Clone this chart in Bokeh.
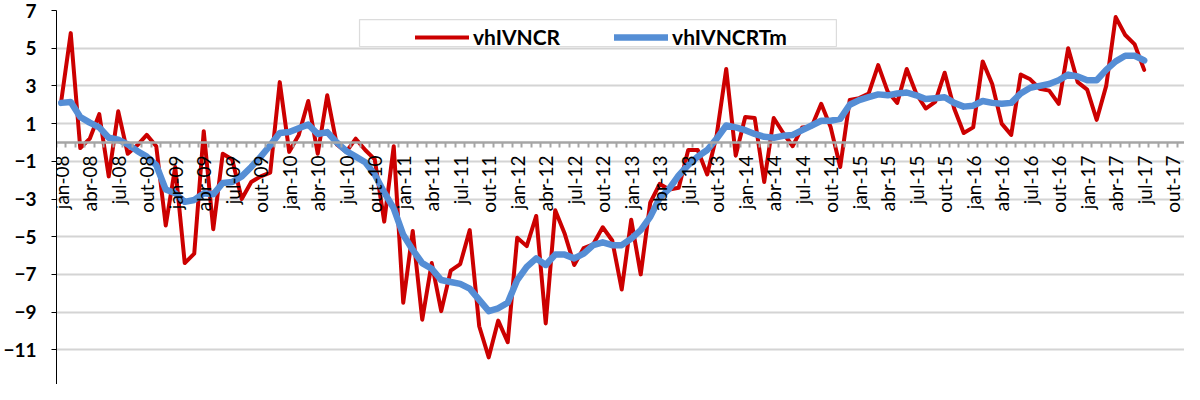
import math
from bokeh.plotting import figure
from bokeh.models import Range1d, FixedTicker, Legend, LegendItem, BoxAnnotation, ColumnDataSource
from bokeh.embed import file_html
from bokeh.resources import INLINE

# ---- data ----
month_abbr = ["jan", "fev", "mar", "abr", "mai", "jun", "jul", "ago", "set", "out", "nov", "dez"]
categories = [f"{m}-{y:02d}" for y in range(8, 18) for m in month_abbr]  # jan-08 .. dez-17

vhIVNCR = [
    2.2, 5.8, -0.3, 0.2, 1.5, -1.8, 1.65, -0.6, -0.15, 0.4, -0.2, -4.4,          # 2008
    -1.3, -6.4, -5.9, 0.6, -4.6, -0.6, -0.9, -3.0, -2.1, -1.8, -1.6, 3.2,        # 2009
    -0.5, 0.4, 2.2, -0.6, 2.5, -0.1, -0.5, 0.2, -0.4, -0.9, -4.2, -0.2,          # 2010
    -8.5, -4.7, -9.4, -6.4, -8.95, -6.8, -6.45, -4.65, -9.75, -11.4, -9.45, -10.6,  # 2011
    -5.05, -5.5, -3.9, -9.6, -3.6, -4.85, -6.5, -5.6, -5.4, -4.5, -5.2, -7.8,    # 2012
    -4.1, -7.0, -3.2, -2.2, -2.5, -2.4, -0.4, -0.4, -1.7, 0.4, 3.9, -0.7,        # 2013
    1.35, 1.3, -2.1, 1.3, 0.5, -0.2, 0.8, 0.85, 2.05, 0.8, -1.3, 2.25,           # 2014
    2.35, 2.6, 4.1, 2.7, 2.1, 3.9, 2.6, 1.8, 2.15, 3.7, 1.8, 0.5,                # 2015
    0.8, 4.3, 3.1, 1.0, 0.4, 3.6, 3.35, 2.85, 2.75, 2.05, 5.0, 3.2,              # 2016
    2.8, 1.2, 3.0, 6.65, 5.7, 5.2, 3.85,                                         # 2017
]
vhIVNCRTm = [
    2.1, 2.15, 1.35, 1.05, 0.8, 0.25, 0.15, -0.1, -0.45, -0.75, -1.2, -2.5,
    -2.7, -3.15, -3.05, -2.7, -2.75, -2.15, -2.1, -1.8, -1.3, -0.75, -0.15, 0.5,
    0.55, 0.75, 0.95, 0.45, 0.55, 0.0, -0.45, -0.75, -1.05, -1.7, -2.65, -3.5,
    -4.9, -5.7, -6.4, -6.7, -7.3, -7.4, -7.5, -7.75, -8.35, -8.95, -8.8, -8.5,
    -7.3, -6.6, -6.15, -6.5, -5.95, -5.95, -6.15, -5.9, -5.45, -5.3, -5.45, -5.45,
    -5.1, -4.65, -3.95, -2.95, -2.45, -1.75, -1.2, -0.75, -0.4, 0.2, 0.9, 0.8,
    0.65, 0.45, 0.3, 0.25, 0.35, 0.4, 0.65, 0.9, 1.15, 1.15, 1.25, 2.0,
    2.25, 2.4, 2.55, 2.5, 2.6, 2.65, 2.5, 2.3, 2.35, 2.4, 2.1, 1.9,
    1.95, 2.2, 2.1, 2.05, 2.1, 2.6, 2.9, 3.0, 3.1, 3.3, 3.6, 3.5,
    3.3, 3.3, 3.85, 4.3, 4.6, 4.6, 4.35,
]
y_ticks = [-13, -11, -9, -7, -5, -3, -1, 1, 3, 5, 7]
label_step = 3  # a label every quarter (jan, abr, jul, out)

# ---- figure ----
FONT = "Lato"
x_idx = list(range(len(vhIVNCR)))
src = ColumnDataSource(dict(x=x_idx, red=vhIVNCR, blue=vhIVNCRTm,
                            cat=categories[:len(vhIVNCR)]))

px_per_month = 9.55
px_per_unit = 18.85
W, H = 1184, 384
left_b, top_b = 50, 10
x_end = -0.5 + (W - left_b) / px_per_month
y_start = 7 - (H - top_b) / px_per_unit

p = figure(width=W, height=H, output_backend="svg", toolbar_location=None,
           x_range=Range1d(-0.5, x_end), y_range=Range1d(y_start, 7),
           min_border_left=left_b, min_border_top=top_b,
           min_border_right=0, min_border_bottom=0)
p.outline_line_color = None
p.background_fill_color = "white"
p.border_fill_color = "white"

r_red = p.line("x", "red", source=src, line_color="#CC0000", line_width=4,
               line_join="round", line_cap="round")
r_blue = p.line("x", "blue", source=src, line_color="#558ED5", line_width=6.5,
                line_join="round", line_cap="round")

# y axis
p.yaxis.ticker = FixedTicker(ticks=y_ticks)
p.yaxis.axis_line_color = "black"
p.yaxis.axis_line_width = 1
p.yaxis.major_tick_out = 5
p.yaxis.major_tick_in = 0
p.yaxis.minor_tick_line_color = None
p.yaxis.major_tick_line_color = "black"
p.yaxis.major_label_standoff = 15
p.yaxis.major_label_text_font = FONT
p.yaxis.major_label_text_font_style = "bold"
p.yaxis.major_label_text_font_size = "19px"
p.yaxis.major_label_text_color = "black"

p.ygrid.ticker = FixedTicker(ticks=y_ticks)
p.ygrid.grid_line_color = "#D4D4D4"
p.ygrid.grid_line_width = 2
p.xgrid.visible = False

# x axis crossing at y = 0
n_cat = len(categories)
p.xaxis.fixed_location = 0
p.xaxis.ticker = FixedTicker(ticks=list(range(0, n_cat, label_step)),
                             minor_ticks=[k - 0.5 for k in range(n_cat + 1)])
p.xaxis.major_label_overrides = {i: categories[i] for i in range(0, n_cat, label_step)}
p.xaxis.major_label_orientation = math.pi / 2
p.xaxis.axis_line_color = "#A6A6A6"
p.xaxis.axis_line_width = 2.5
p.xaxis.major_tick_out = 0
p.xaxis.major_tick_in = 0
p.xaxis.minor_tick_out = 5
p.xaxis.minor_tick_in = 0
p.xaxis.minor_tick_line_color = "#A6A6A6"
p.xaxis.minor_tick_line_width = 2
p.xaxis.major_label_standoff = 8
p.xaxis.major_label_text_font = FONT
p.xaxis.major_label_text_font_size = "19px"
p.xaxis.major_label_text_color = "black"

# legend
frame = BoxAnnotation(left=31.4, right=81.6, top=6.52, bottom=5.09,
                      fill_color="white", fill_alpha=1.0,
                      line_color="#8C8C8C", line_width=1.2)
p.add_layout(frame)
legend = Legend(items=[LegendItem(label="vhIVNCR", renderers=[r_red]),
                       LegendItem(label="vhIVNCRTm", renderers=[r_blue])],
                orientation="horizontal", location=(359, 335),
                glyph_width=54, glyph_height=20, label_standoff=4, spacing=54,
                padding=4, border_line_color=None, background_fill_alpha=0,
                label_text_font=FONT, label_text_font_size="21px",
                label_text_font_style="bold", label_text_color="black")
p.add_layout(legend)

open("out.html", "w").write(file_html(p, INLINE))
